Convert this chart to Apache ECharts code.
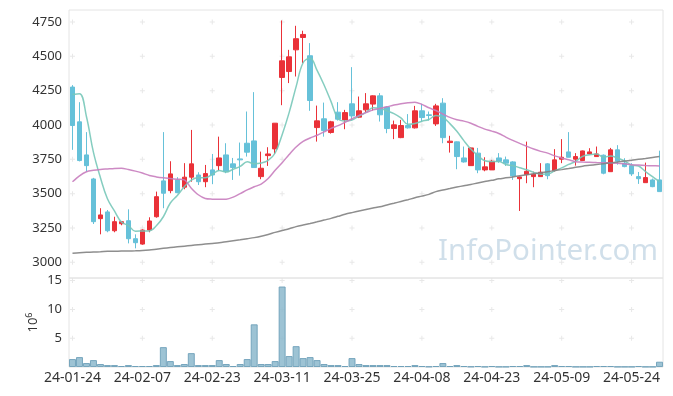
<!DOCTYPE html>
<html><head><meta charset="utf-8">
<script src="https://cdn.jsdelivr.net/npm/echarts@6/dist/echarts.min.js"></script>
<style>html,body{margin:0;padding:0;background:#fff}#c{width:673px;height:396px}</style>
</head><body><div id="c"></div>
<script>
const dates = ['24-01-24','24-01-25','24-01-26','24-01-29','24-01-30','24-01-31','24-02-01','24-02-02','24-02-05','24-02-06',
'24-02-07','24-02-08','24-02-13','24-02-14','24-02-15','24-02-16','24-02-19','24-02-20','24-02-21','24-02-22',
'24-02-23','24-02-26','24-02-27','24-02-28','24-02-29','24-03-04','24-03-05','24-03-06','24-03-07','24-03-08',
'24-03-11','24-03-12','24-03-13','24-03-14','24-03-15','24-03-18','24-03-19','24-03-20','24-03-21','24-03-22',
'24-03-25','24-03-26','24-03-27','24-03-28','24-03-29','24-04-01','24-04-02','24-04-03','24-04-04','24-04-05',
'24-04-08','24-04-09','24-04-11','24-04-12','24-04-15','24-04-16','24-04-17','24-04-18','24-04-19','24-04-22',
'24-04-23','24-04-24','24-04-25','24-04-26','24-04-29','24-04-30','24-05-02','24-05-03','24-05-07','24-05-08',
'24-05-09','24-05-10','24-05-13','24-05-14','24-05-16','24-05-17','24-05-20','24-05-21','24-05-22','24-05-23',
'24-05-24','24-05-27','24-05-28','24-05-29','24-05-30'];

const opens = [4276,4023,3782,3607,3318,3367,3230,3281,3303,3172,
3133,3235,3332,3593,3522,3600,3547,3620,3636,3587,
3673,3704,3782,3717,3753,3867,3884,3624,3777,3826,
4346,4389,4547,4637,4504,3981,4045,3945,4093,4037,
4154,4057,4110,4152,4212,4130,3974,3908,3996,3979,
4103,4074,4008,4159,3872,3877,3760,3704,3795,3673,
3673,3760,3746,3731,3609,3639,3624,3624,3717,3668,
3751,3804,3751,3741,3789,3770,3780,3660,3819,3722,
3704,3624,3580,3600,3600];
const closes = [3996,3741,3704,3296,3345,3230,3296,3296,3172,3143,
3235,3301,3478,3503,3644,3507,3620,3717,3587,3646,
3636,3760,3660,3690,3746,3802,3690,3685,3789,4013,
4467,4496,4628,4659,4178,4030,3959,4023,4042,4090,
4066,4103,4154,4212,4074,3974,4001,3996,3979,4103,
4054,4069,4139,3908,3882,3770,3731,3833,3673,3695,
3736,3736,3722,3629,3622,3663,3641,3656,3631,3746,
3765,3765,3770,3811,3804,3789,3649,3819,3736,3697,
3644,3609,3617,3551,3515];
const lows = [3819,3735,3660,3279,3204,3219,3219,3270,3138,3102,
3128,3219,3325,3394,3503,3503,3532,3587,3563,3547,
3569,3668,3649,3600,3631,3770,3690,3605,3702,3789,
4144,4305,4353,4450,4103,3879,3915,3937,4032,3969,
4032,4050,4090,4105,4025,3940,3897,3904,3974,3974,
4023,4032,3993,3867,3799,3678,3726,3704,3649,3663,
3673,3725,3702,3600,3374,3576,3547,3624,3605,3660,
3722,3765,3704,3741,3782,3770,3641,3660,3711,3692,
3629,3571,3580,3547,3515];
const highs = [4290,4166,3948,3615,3394,3381,3332,3300,3386,3204,
3240,3328,3515,3948,3736,3620,3722,3964,3656,3709,
3789,3915,3867,3760,3872,4098,4239,3806,3838,4013,
4761,4547,4722,4686,4596,4141,4163,4030,4166,4110,
4421,4207,4232,4215,4232,4134,4032,4037,4079,4139,
4154,4098,4154,4195,3921,3880,3843,3836,3833,3765,
3746,3795,3770,3736,3624,3879,3660,3722,3722,3824,
3897,3948,3795,3814,3831,3843,3785,3833,3853,3758,
3722,3658,3726,3610,3813];

const ma5 = [4222,4228,4060,3800,3616,3463,3374,3293,3268,3227,
3228,3229,3266,3332,3432,3487,3550,3598,3615,3615,
3641,3669,3658,3678,3698,3732,3718,3723,3742,3796,
3929,4090,4279,4453,4486,4398,4291,4170,4046,4029,
4036,4065,4091,4125,4122,4103,4083,4051,4005,4011,
4027,4040,4069,4055,4010,3954,3886,3825,3778,3740,
3734,3735,3712,3704,3689,3674,3655,3642,3643,3667,
3688,3713,3735,3771,3783,3788,3765,3774,3759,3738,
3709,3701,3661,3624,3587];
const ma20 = [3587,3630,3660,3670,3676,3680,3684,3685,3676,3664,
3650,3632,3622,3615,3610,3605,3600,3540,3492,3465,
3460,3459,3460,3475,3500,3527,3550,3570,3610,3670,
3725,3785,3840,3880,3905,3925,3950,3975,3995,4020,
4045,4070,4090,4110,4120,4132,4145,4155,4162,4166,
4150,4125,4105,4080,4055,4038,4028,4013,3990,3970,
3955,3938,3912,3888,3866,3845,3825,3808,3795,3775,
3760,3747,3733,3730,3728,3726,3725,3724,3722,3717,
3711,3708,3705,3703,3702];
const ma60 = [3066,3070,3073,3075,3077,3080,3081,3082,3083,3084,
3086,3090,3096,3102,3108,3113,3118,3123,3128,3133,
3138,3143,3150,3157,3164,3172,3180,3190,3203,3218,
3232,3245,3260,3272,3283,3295,3308,3320,3335,3350,
3362,3373,3384,3395,3405,3418,3430,3443,3456,3470,
3482,3495,3515,3527,3537,3548,3558,3567,3578,3588,
3597,3608,3615,3622,3630,3638,3645,3652,3660,3668,
3675,3683,3692,3700,3706,3712,3718,3724,3730,3737,
3743,3750,3756,3763,3770];

// volume in millions of shares
const volumes = [1.38,1.72,0.69,1.2,0.52,0.34,0.34,0.17,0.34,0.17,
0.17,0.17,0.34,3.45,1.03,0.34,0.52,2.41,0.34,0.34,
0.34,1.2,0.52,0.17,0.52,1.38,7.41,0.52,0.52,1.03,
13.97,1.9,3.62,1.55,1.72,1.2,0.52,0.34,0.34,0.17,
1.55,0.52,0.34,0.34,0.34,0.34,0.17,0.17,0.17,0.34,
0.17,0.08,0.17,0.69,0.17,0.34,0.17,0.08,0.17,0.05,
0.17,0.05,0.05,0.17,0.17,0.34,0.05,0.05,0.05,0.34,
0.17,0.17,0.05,0.05,0.05,0.17,0.17,0.17,0.05,0.05,
0.05,0.17,0.05,0.05,0.92];

const priceTicks = [3000,3250,3500,3750,4000,4250,4500,4750];
const volumeTicks = [5,10,15];

const FONT = '"Noto Sans", sans-serif';
const RED = '#ea3138', BLUE = '#66c1d9';

const candleData = opens.map((o, i) => [o, closes[i], lows[i], highs[i]]);
const labelCats = dates.filter((d, i) => i % 10 === 0);
const crossPrice = [], crossVol = [];
labelCats.forEach(c => {
  priceTicks.forEach(v => crossPrice.push([c, v]));
  volumeTicks.forEach(v => crossVol.push([c, v]));
});
const PLUS = 'path://M2,0H3V5H2Z M0,2H5V3H0Z';

const chart = echarts.init(document.getElementById('c'), null, {renderer: 'canvas'});
chart.setOption({
  animation: false,
  backgroundColor: '#fff',
  textStyle: {fontFamily: FONT},
  graphic: [{
    type: 'text', left: 438, top: 237, silent: true, z: 0,
    style: {text: 'InfoPointer.com', fontFamily: FONT, fontSize: 29.5,
      fill: 'rgba(150,185,208,0.45)'}
  }],
  grid: [
    {left: 69, right: 10, top: 10, height: 268, show: true, borderColor: '#e4e4e4', borderWidth: 1},
    {left: 69, right: 10, top: 278, height: 89, show: true, borderColor: '#e4e4e4', borderWidth: 1}
  ],
  xAxis: [
    {type: 'category', gridIndex: 0, data: dates, boundaryGap: true,
     axisLine: {show: false}, axisTick: {show: false}, axisLabel: {show: false}, splitLine: {show: false}},
    {type: 'category', gridIndex: 1, data: dates, boundaryGap: true,
     axisLine: {show: false}, axisTick: {show: false}, splitLine: {show: false},
     axisLabel: {interval: 9, color: '#333', fontSize: 14, margin: 4, fontFamily: FONT}}
  ],
  yAxis: [
    {type: 'value', gridIndex: 0, min: 2886, max: 4837, scale: true,
     axisLine: {show: false}, axisTick: {show: false}, splitLine: {show: false},
     axisLabel: {customValues: priceTicks, formatter: v => String(v), color: '#333', fontSize: 13, margin: 7, fontFamily: FONT}},
    {type: 'value', gridIndex: 1, min: 0, max: 15.45,
     axisLine: {show: false}, axisTick: {show: false}, splitLine: {show: false},
     axisLabel: {customValues: volumeTicks, formatter: v => String(v), color: '#333', fontSize: 13, margin: 7, fontFamily: FONT},
     name: '10{s|6}', nameLocation: 'middle', nameRotate: 90, nameGap: 28, nameMoveOverlap: false,
     nameTextStyle: {color: '#333', fontSize: 13, fontFamily: FONT, lineHeight: 16,
       rich: {s: {fontSize: 9, verticalAlign: 'top', lineHeight: 16, fontFamily: FONT, color: '#333'}}}}
  ],
  series: [
    {type: 'scatter', xAxisIndex: 0, yAxisIndex: 0, data: crossPrice, symbol: PLUS, symbolSize: 5,
     itemStyle: {color: '#e2e2e2'}, silent: true, z: 1},
    {type: 'scatter', xAxisIndex: 1, yAxisIndex: 1, data: crossVol, symbol: PLUS, symbolSize: 5,
     itemStyle: {color: '#e2e2e2'}, silent: true, z: 1},
    {type: 'candlestick', name: 'price', xAxisIndex: 0, yAxisIndex: 0, data: candleData, barWidth: 5,
     itemStyle: {color: RED, color0: BLUE, borderColor: RED, borderColor0: BLUE, borderWidth: 1}, z: 3},
    {type: 'line', name: 'MA5', xAxisIndex: 0, yAxisIndex: 0, data: ma5, showSymbol: false, smooth: 0.4,
     lineStyle: {color: 'rgba(120,200,185,0.9)', width: 1.5}, z: 4},
    {type: 'line', name: 'MA20', xAxisIndex: 0, yAxisIndex: 0, data: ma20, showSymbol: false, smooth: 0.3,
     lineStyle: {color: 'rgba(200,125,190,0.9)', width: 1.5}, z: 4},
    {type: 'line', name: 'MA60', xAxisIndex: 0, yAxisIndex: 0, data: ma60, showSymbol: false, smooth: 0.3,
     lineStyle: {color: 'rgba(130,130,130,0.9)', width: 1.5}, z: 4},
    {type: 'bar', name: 'volume', xAxisIndex: 1, yAxisIndex: 1, data: volumes, barWidth: '100%',
     itemStyle: {color: 'rgba(140,185,205,0.85)', borderColor: 'rgba(110,160,185,0.9)', borderWidth: 1}, z: 3}
  ]
});
</script>
</body></html>
